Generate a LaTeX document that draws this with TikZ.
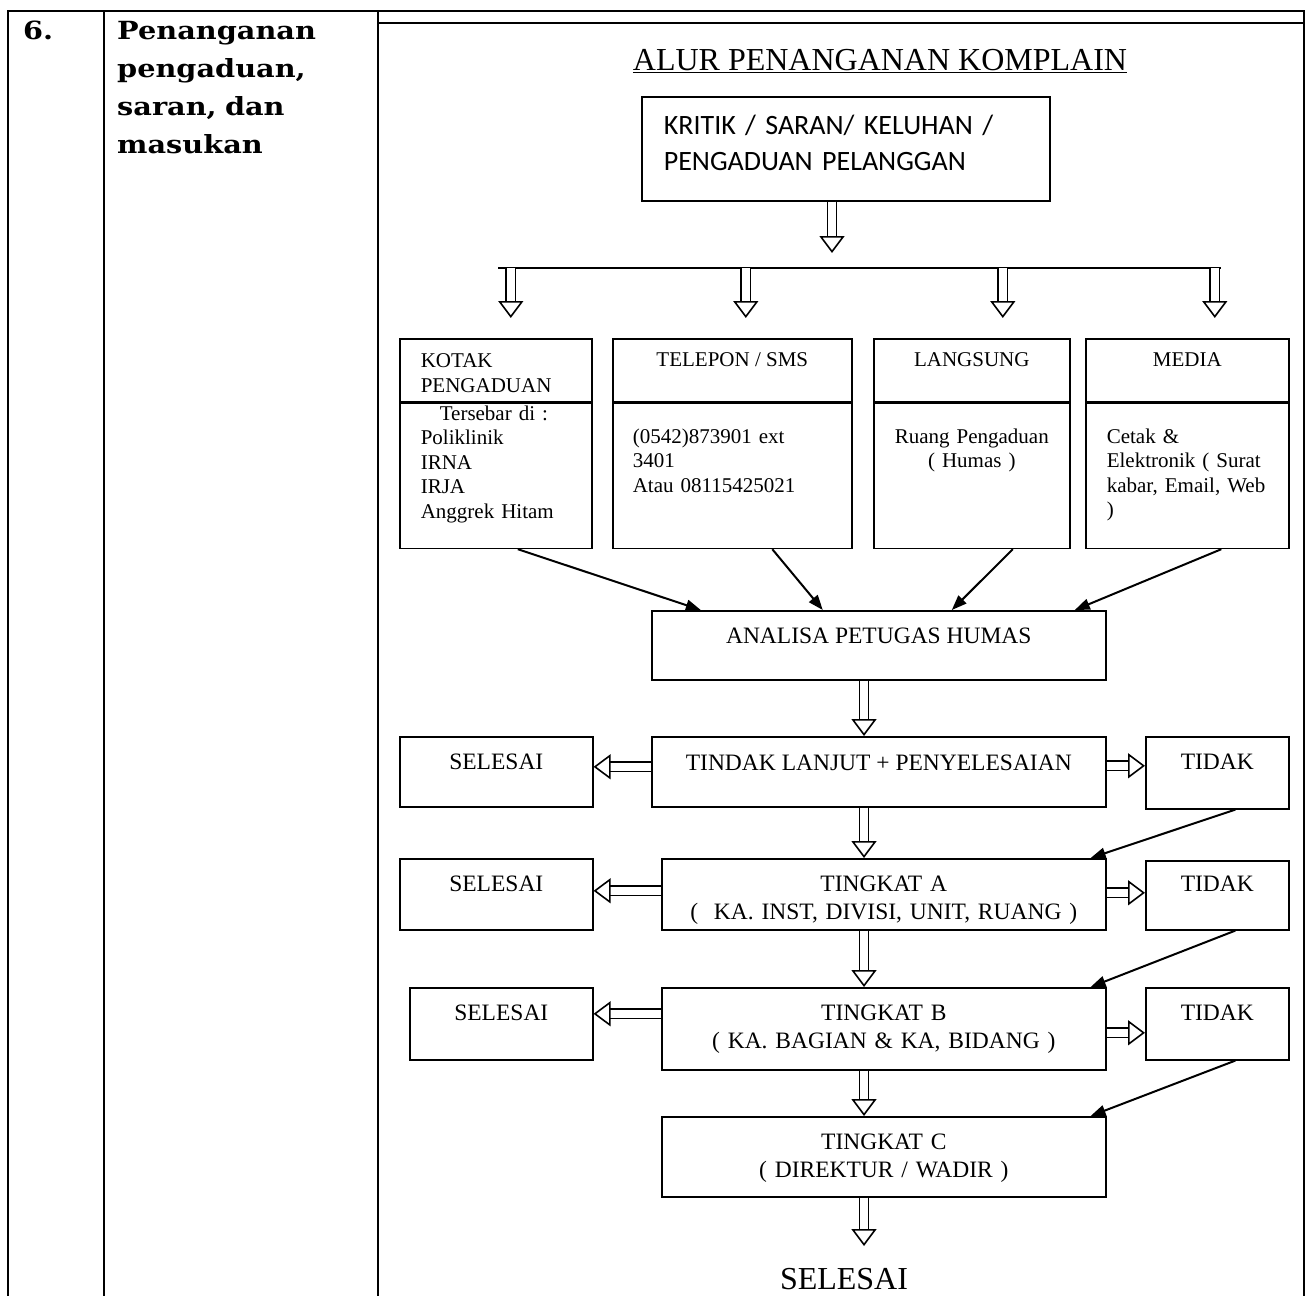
\documentclass[tikz,border=0pt]{standalone}
\usepackage{fontspec}
\setmainfont{Liberation Serif}
\newfontfamily\calibri{Carlito}
\newfontfamily\bookman[FakeStretch=1.15]{DejaVu Serif}
\usetikzlibrary{arrows.meta}

\newcommand{\flowfont}{\fontsize{23.5}{28}\selectfont}
\newcommand{\chanfont}{\fontsize{21}{24.5}\selectfont}
\newcommand{\kritikfont}{\calibri\fontsize{28}{36}\selectfont}
\newcommand{\titlefont}{\fontsize{32}{38}\selectfont}
\newcommand{\topicfont}{\bookman\bfseries\fontsize{25}{38}\selectfont}

\tikzset{
    box/.style={draw, line width=1.6pt, inner xsep=0pt, inner ysep=0pt, anchor=north west},
    flow/.style={box, font=\flowfont, align=center},
    chan/.style={box, font=\chanfont},
    hollow/.style={double, double distance=7.5pt, line width=1.6pt,
        -{Triangle[open, length=17pt 0 0, width=25pt 0 0, line width=1.6pt 0 0]}},
    pointer/.style={line width=2pt, -{Triangle[length=15pt 0 0, width=11pt 0 0]}},
    frame/.style={line width=2.4pt}
}

\begin{document}
\begin{tikzpicture}[x=1pt, y=-1pt]
        \useasboundingbox (0,0) rectangle (1307,1296);
        %table frame
        \draw[frame] (8,1296) -- (8,11) -- (1304,11) -- (1304,1296);
        \draw[frame] (104,11) -- (104,1296);
        \draw[frame] (378,11) -- (378,1296);
        \draw[frame] (378,23) -- (1304,23);

        %left columns
        \node[anchor=base west, inner sep=0pt, font=\topicfont] (num) at (23,39) {6.};
        \node[anchor=base west, inner sep=0pt, font=\topicfont, align=left, text width=250pt] (topic) at (117,39)
            {Penanganan\\pengaduan,\\saran, dan\\masukan};

        %title and source
        \node[anchor=base, inner sep=0pt, font=\titlefont] (title) at (880,70)
            {\underline{ALUR PENANGANAN KOMPLAIN}};
        \node[box, font=\kritikfont, align=left, text width=364pt, inner xsep=22pt,
            text height=38pt, text depth=66pt] (kritik) at (641,96)
            {KRITIK / SARAN/ KELUHAN /\\PENGADUAN PELANGGAN};

        %channels
        \node[chan, align=left, text width=150pt, inner xsep=21pt, text height=29pt, text depth=34pt]
            (kotakHead) at (399,338) {KOTAK\\PENGADUAN};
        \node[chan, minimum width=239pt, text height=28pt, text depth=35pt] (telpHead) at (612,338) {TELEPON / SMS};
        \node[chan, minimum width=196pt, text height=28pt, text depth=35pt] (langHead) at (873,338) {LANGSUNG};
        \node[chan, minimum width=203pt, text height=28pt, text depth=35pt] (mediaHead) at (1085,338) {MEDIA};
        \node[chan, align=left, text width=150pt, inner xsep=21pt, text height=17pt, text depth=128pt]
            (kotakBody) at (kotakHead.south west)
            {\hspace*{19pt}Tersebar di :\\Poliklinik\\IRNA\\IRJA\\Anggrek Hitam};
        \node[chan, align=left, text width=199pt, inner xsep=20pt, text height=40pt, text depth=105pt]
            (telpBody) at (telpHead.south west) {(0542)873901 ext\\3401\\Atau 08115425021};
        \node[chan, align=center, text width=196pt, text height=40pt, text depth=105pt]
            (langBody) at (langHead.south west) {Ruang Pengaduan\\( Humas )};
        \node[chan, align=left, text width=161pt, inner xsep=21pt, text height=40pt, text depth=105pt]
            (mediaBody) at (mediaHead.south west) {Cetak \&\\Elektronik ( Surat\\kabar, Email, Web\\)};

        %handling levels
        \node[flow, minimum width=454pt, text height=33pt, text depth=36pt] (analisa) at (651,610) {ANALISA PETUGAS HUMAS};
        \node[flow, minimum width=454pt, text height=34pt, text depth=36pt] (tindak) at (651,736) {TINDAK LANJUT + PENYELESAIAN};
        \node[flow, minimum width=193pt, text height=33pt, text depth=37pt] (selesaiA) at (399,736) {SELESAI};
        \node[flow, minimum width=143pt, text height=33pt, text depth=39pt] (tidakA) at (1145,736) {TIDAK};
        \node[flow, text width=444pt, text height=33pt, text depth=38pt] (tingkatA) at (661,858)
            {TINGKAT A\\(~~KA. INST, DIVISI, UNIT, RUANG )};
        \node[flow, minimum width=193pt, text height=33pt, text depth=38pt] (selesaiB) at (399,858) {SELESAI};
        \node[flow, minimum width=143pt, text height=31pt, text depth=38pt] (tidakB) at (1145,860) {TIDAK};
        \node[flow, text width=444pt, text height=33pt, text depth=49pt] (tingkatB) at (661,987)
            {TINGKAT B\\( KA. BAGIAN \& KA, BIDANG )};
        \node[flow, minimum width=183pt, text height=33pt, text depth=39pt] (selesaiC) at (409,987) {SELESAI};
        \node[flow, minimum width=143pt, text height=33pt, text depth=39pt] (tidakC) at (1145,987) {TIDAK};
        \node[flow, text width=444pt, text height=33pt, text depth=47pt] (tingkatC) at (661,1116)
            {TINGKAT C\\( DIREKTUR / WADIR )};
        \node[anchor=base, inner sep=0pt, font=\titlefont] (done) at (844,1289) {SELESAI};

        %connectors
        \coordinate (spine) at (864,0);
        \coordinate (split) at (832,253);
        \coordinate (busL) at (498,268);
        \coordinate (busR) at (1221,268);
        \coordinate (endtip) at (864,1246);

        \draw[hollow] (kritik.south -| split) -- (split);
        \draw[line width=2pt] (busL) -- (busR);
        \foreach \nd/\dx in {kotakHead/15, telpHead/13.5, langHead/31, mediaHead/27.5}
            \draw[hollow] ([xshift=\dx pt]\nd.north |- busL) -- ([xshift=\dx pt, yshift=20pt]\nd.north);

        \draw[pointer] ([xshift=22pt]kotakBody.south) -- ([xshift=-178pt]analisa.north);
        \draw[pointer] ([xshift=40pt]telpBody.south) -- ([xshift=-56pt]analisa.north);
        \draw[pointer] ([xshift=41pt]langBody.south) -- ([xshift=73pt]analisa.north);
        \draw[pointer] ([xshift=34pt]mediaBody.south) -- ([xshift=196pt]analisa.north);

        \draw[hollow] (analisa.south -| spine) -- (tindak.north -| spine);
        \draw[hollow] (tindak.south -| spine) -- (tingkatA.north -| spine);
        \draw[hollow] (tingkatA.south -| spine) -- (tingkatB.north -| spine);
        \draw[hollow] (tingkatB.south -| spine) -- (tingkatC.north -| spine);
        \draw[hollow] (tingkatC.south -| spine) -- (endtip);

        \draw[hollow] ([yshift=5pt]tindak.west) -- ([yshift=5pt]tindak.west -| selesaiA.east);
        \draw[hollow] ([yshift=6pt]tindak.east) -- ([yshift=6pt]tindak.east -| tidakA.west);
        \draw[hollow] ([yshift=3.5pt]tingkatA.west) -- ([yshift=3.5pt]tingkatA.west -| selesaiB.east);
        \draw[hollow] ([yshift=1.5pt]tingkatA.east) -- ([yshift=1.5pt]tingkatA.east -| tidakB.west);
        \draw[hollow] ([yshift=15pt]tingkatB.west) -- ([yshift=15pt]tingkatB.west -| selesaiC.east);
        \draw[hollow] ([yshift=-4pt]tingkatB.east) -- ([yshift=-4pt]tingkatB.east -| tidakC.west);

        \draw[pointer] ([xshift=18pt]tidakA.south) -- ([xshift=-16pt]tingkatA.north east);
        \draw[pointer] ([xshift=18pt]tidakB.south) -- ([xshift=-16pt]tingkatB.north east);
        \draw[pointer] ([xshift=18pt]tidakC.south) -- ([xshift=-16pt]tingkatC.north east);
\end{tikzpicture}
\end{document}
